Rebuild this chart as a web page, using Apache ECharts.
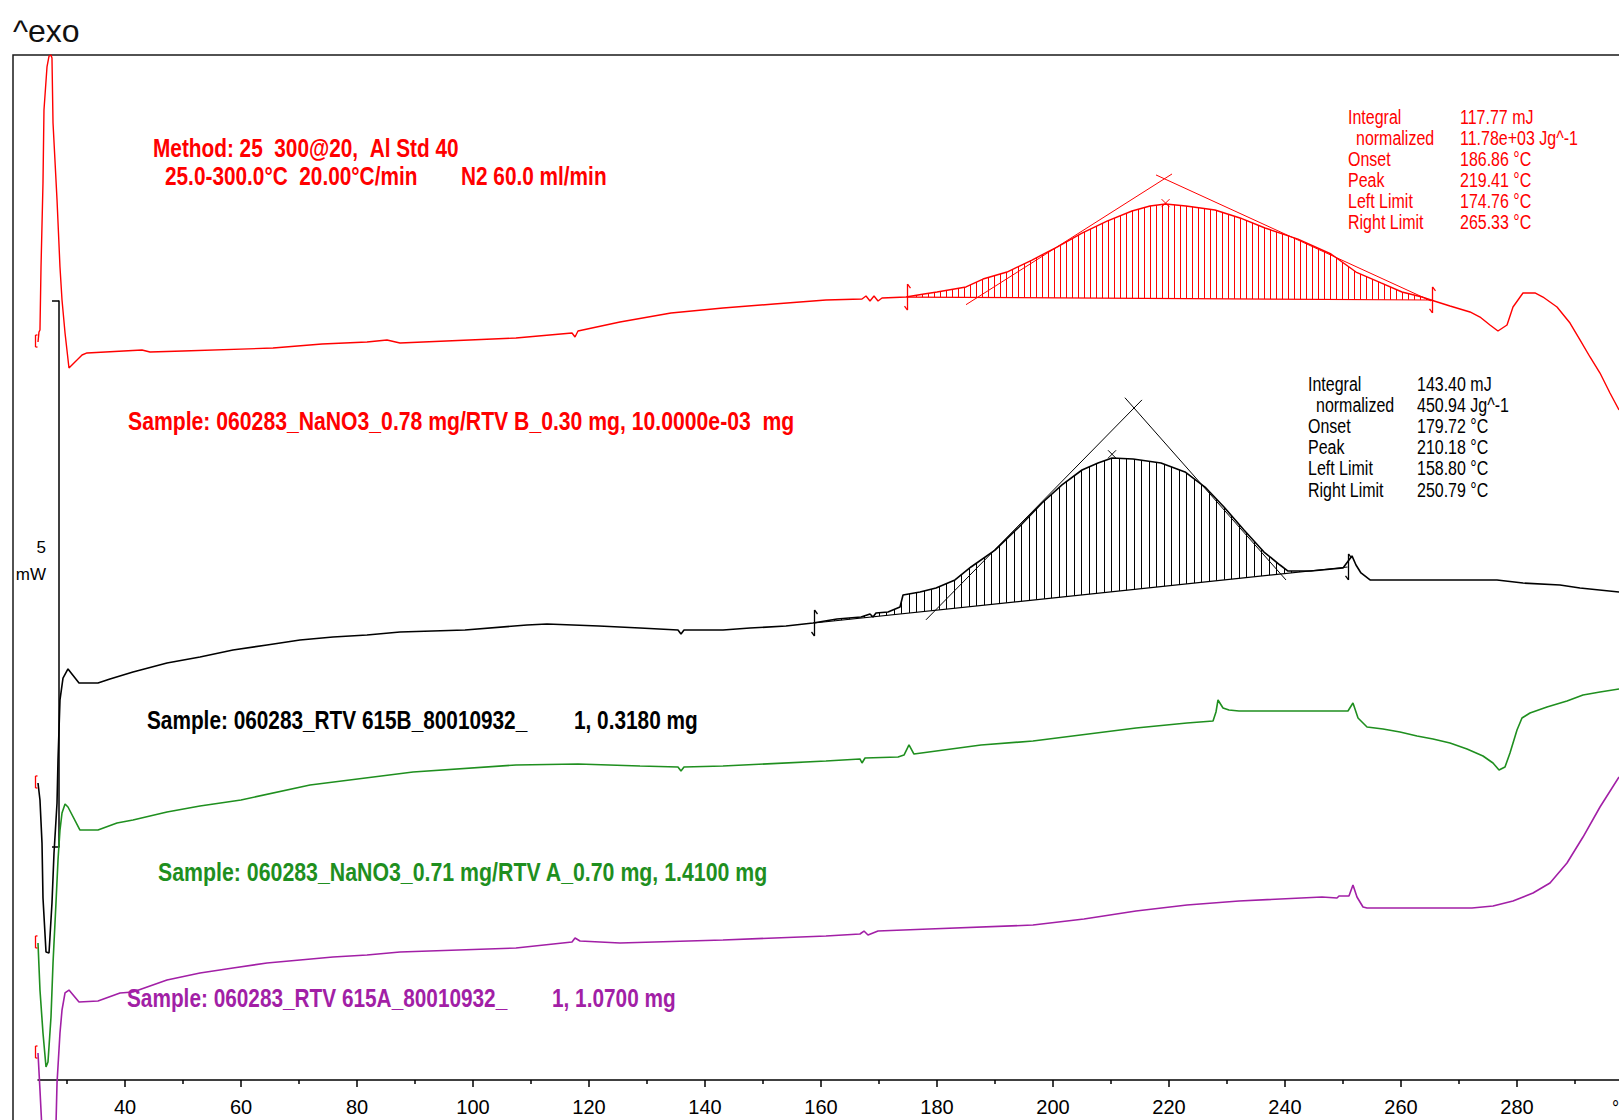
<!DOCTYPE html>
<html>
<head>
<meta charset="utf-8">
<title>DSC</title>
<script src="https://cdn.jsdelivr.net/npm/echarts@6/dist/echarts.min.js"></script>
<style>
  html, body { margin: 0; padding: 0; background: #fff; }
  #chart { width: 1619px; height: 1120px; }
</style>
</head>
<body>
<div id="chart"></div>
<script>
// DSC heat-flow traces, temperature (°C) against heat flow (mW), drawn offset from one another.

const redCurve = [[25.00,6.758],[25.17,6.850],[25.34,6.868],[25.52,7.445],[25.86,8.214],[26.03,8.883],[26.55,9.277],[26.90,9.377],[27.24,9.386],[27.41,9.359],[27.59,8.764],[28.28,8.059],[28.79,7.445],[29.14,7.143],[29.66,6.841],[30.34,6.520],[32.59,6.639],[33.45,6.658],[42.93,6.685],[44.31,6.667],[50.00,6.676],[65.52,6.703],[73.97,6.740],[81.72,6.758],[85.17,6.777],[87.41,6.749],[107.41,6.795],[117.07,6.841],[117.59,6.804],[118.10,6.859],[125.34,6.941],[134.14,7.024],[143.10,7.070],[151.90,7.106],[160.86,7.143],[167.07,7.152],[167.76,7.179],[168.45,7.134],[169.14,7.179],[169.83,7.134],[170.52,7.161],[174.66,7.170],[177.76,7.198],[180.00,7.216],[185.00,7.262],[187.93,7.335],[192.07,7.399],[196.38,7.509],[200.69,7.628],[205.00,7.756],[209.31,7.866],[213.62,7.958],[216.72,8.004],[219.41,8.022],[222.93,8.004],[227.93,7.967],[232.24,7.894],[236.55,7.802],[242.24,7.701],[247.93,7.564],[252.24,7.399],[256.55,7.299],[260.17,7.216],[263.62,7.170],[265.17,7.143],[268.45,7.088],[271.90,7.033],[273.62,6.987],[275.34,6.914],[276.72,6.859],[278.28,6.914],[279.31,7.079],[281.03,7.207],[283.10,7.207],[284.48,7.170],[286.90,7.079],[289.14,6.932],[290.86,6.777],[292.59,6.621],[294.31,6.474],[296.03,6.291],[297.59,6.136]];

const blackCurve = [[25.00,2.720],[25.34,2.564],[25.69,2.170],[25.86,1.667],[26.38,1.172],[26.90,1.163],[27.41,1.621],[27.76,2.079],[28.28,2.537],[28.45,2.930],[28.79,3.480],[29.31,3.681],[30.17,3.764],[32.07,3.636],[35.34,3.636],[37.41,3.672],[41.38,3.736],[47.24,3.819],[52.93,3.874],[58.62,3.938],[64.48,3.984],[70.17,4.029],[75.86,4.057],[81.72,4.075],[87.41,4.103],[98.62,4.121],[109.31,4.167],[112.76,4.176],[121.72,4.158],[128.79,4.139],[135.34,4.121],[135.86,4.084],[136.38,4.121],[143.10,4.121],[147.76,4.139],[153.97,4.158],[158.62,4.185],[162.76,4.222],[166.90,4.240],[168.45,4.267],[168.97,4.240],[169.48,4.277],[171.55,4.286],[173.62,4.332],[174.14,4.441],[177.07,4.469],[179.83,4.505],[183.10,4.579],[185.86,4.698],[190.00,4.853],[194.14,5.064],[198.10,5.284],[201.55,5.449],[205.00,5.586],[207.76,5.650],[210.18,5.696],[213.79,5.687],[218.62,5.650],[222.76,5.568],[226.21,5.430],[229.48,5.247],[232.93,5.037],[236.38,4.835],[239.14,4.716],[240.52,4.661],[244.48,4.661],[250.00,4.689],[251.03,4.762],[251.55,4.799],[252.24,4.716],[253.10,4.643],[254.66,4.579],[276.55,4.579],[281.03,4.551],[287.41,4.533],[290.86,4.505],[297.59,4.469]];

const greenCurve = [[25.00,1.255],[25.34,0.824],[25.86,0.430],[26.38,0.119],[26.72,0.165],[27.24,0.577],[27.59,1.071],[28.10,1.621],[28.45,2.015],[28.79,2.289],[29.14,2.445],[29.66,2.527],[30.17,2.500],[32.24,2.289],[35.34,2.289],[38.62,2.353],[41.38,2.381],[47.24,2.454],[52.93,2.509],[60.00,2.564],[71.90,2.701],[89.66,2.821],[107.41,2.885],[118.10,2.894],[128.79,2.875],[135.34,2.866],[135.86,2.830],[136.38,2.866],[143.10,2.875],[160.86,2.921],[166.72,2.940],[167.07,2.903],[167.59,2.949],[173.28,2.958],[174.31,2.976],[175.17,3.068],[176.03,2.985],[187.59,3.068],[196.55,3.104],[214.31,3.223],[223.10,3.269],[227.59,3.288],[228.10,3.370],[228.45,3.480],[229.31,3.407],[230.34,3.388],[232.07,3.379],[246.38,3.379],[250.86,3.379],[251.72,3.452],[252.59,3.315],[254.14,3.233],[256.90,3.214],[259.83,3.187],[262.76,3.150],[265.52,3.123],[268.45,3.086],[271.38,3.031],[274.14,2.967],[275.86,2.903],[276.90,2.839],[277.93,2.866],[278.79,2.995],[280.00,3.205],[280.86,3.315],[282.24,3.361],[285.17,3.416],[288.62,3.471],[291.38,3.526],[294.31,3.553],[297.59,3.581]];

const purpleCurve = [[25.00,0.247],[25.34,-0.092],[25.69,-0.458],[26.21,-0.916],[26.90,-1.053],[27.59,-0.916],[28.10,-0.412],[28.28,-0.027],[28.79,0.430],[29.14,0.641],[29.66,0.797],[30.34,0.824],[32.07,0.714],[35.34,0.723],[39.14,0.797],[41.38,0.806],[47.24,0.916],[52.93,0.980],[58.62,1.026],[64.48,1.071],[70.17,1.099],[75.86,1.126],[81.72,1.145],[87.41,1.172],[107.41,1.209],[117.07,1.264],[117.59,1.300],[118.45,1.273],[125.34,1.255],[143.10,1.282],[160.86,1.319],[166.72,1.337],[167.41,1.364],[168.10,1.328],[169.83,1.364],[178.62,1.383],[196.55,1.419],[205.34,1.474],[214.31,1.548],[223.10,1.603],[232.07,1.639],[246.38,1.676],[248.97,1.667],[249.31,1.685],[251.03,1.685],[251.72,1.786],[252.41,1.676],[253.45,1.584],[254.14,1.575],[272.24,1.575],[275.86,1.593],[279.31,1.639],[282.76,1.712],[285.69,1.804],[288.62,1.987],[291.38,2.225],[294.31,2.500],[297.59,2.775]];

// Temperature axis ticks
const xMajorTicks = [40, 60, 80, 100, 120, 140, 160, 180, 200, 220, 240, 260, 280];
const xMinorTicks = [30, 50, 70, 90, 110, 130, 150, 170, 190, 210, 230, 250, 270, 290];

// Peak integration: red trace
const redOnset = 186.86;
const redPeak = 219.41;
const redBaseline = [[174.76, 7.170], [265.33, 7.143]];          // left limit .. right limit
const redTangents = [[185.00, 7.100, 220.52, 8.297], [265.17, 7.134, 217.76, 8.288]];
const redPeakMark = [[redPeak, 8.03]];
const redResults = ['117.77 mJ', '11.78e+03 Jg^-1'];

// Peak integration: black trace
const blackOnset = 179.72;
const blackPeak = 210.18;
const blackBaseline = [[158.80, 4.185], [250.79, 4.698]];
const blackTangents = [[178.10, 4.214, 215.34, 6.228], [240.17, 4.579, 212.40, 6.248]];
const blackPeakMark = [[blackPeak, 5.73]];
const blackResults = ['143.40 mJ', '450.94 Jg^-1'];

const resultNames = ['Integral', 'normalized', 'Onset', 'Peak', 'Left Limit', 'Right Limit'];

const methodLines = ['Method: 25  300@20,  Al Std 40', '25.0-300.0°C  20.00°C/min', 'N2 60.0 ml/min'];
const sampleLines = [
  'Sample: 060283_NaNO3_0.78 mg/RTV B_0.30 mg, 10.0000e-03  mg',
  'Sample: 060283_RTV 615B_80010932_', '1, 0.3180 mg',
  'Sample: 060283_NaNO3_0.71 mg/RTV A_0.70 mg, 1.4100 mg',
  'Sample: 060283_RTV 615A_80010932_', '1, 1.0700 mg'
];

// ---------------------------------------------------------------
const RED = '#ff0000', BLACK = '#000000', GREEN = '#1f8f1f', PURPLE = '#a21fa6';
const SANS = '"Liberation Sans", Arial, sans-serif';
const keepSpaces = s => s.replace(/ {2,}/g, m => '\u00a0'.repeat(m.length));

function fmt(v) { return v.toFixed(2) + ' °C'; }

// text element; sx squeezes it horizontally into a condensed face
function textEl(x, y, text, fill, font, sx, align) {
  return {
    type: 'text', x: x, y: y, scaleX: sx || 1, scaleY: 1, silent: true, z: 100,
    style: {
      text: keepSpaces(text), fill: fill, font: font,
      align: align || 'left', verticalAlign: 'middle',
      textAlign: align || 'left', textVerticalAlign: 'middle'
    }
  };
}

// pixel y of a polyline at pixel x
function edgeAt(pts, x) {
  for (let i = 0; i < pts.length - 1; i++) {
    const a = pts[i], b = pts[i + 1];
    if (x >= a[0] && x <= b[0]) {
      if (b[0] === a[0]) return Math.min(a[1], b[1]);
      return a[1] + (b[1] - a[1]) * (x - a[0]) / (b[0] - a[0]);
    }
  }
  return null;
}

// vertical hatching between a trace and its integration baseline
function hatchSeries(curve, base, step, color) {
  return {
    type: 'custom', xAxisIndex: 0, yAxisIndex: 0, silent: true, z: 2,
    data: [base[0]],
    renderItem: function (params, api) {
      const b0 = api.coord(base[0]), b1 = api.coord(base[1]);
      const inner = curve.filter(p => p[0] > base[0][0] && p[0] < base[1][0]).map(p => api.coord(p));
      const top = [b0].concat(inner, [b1]);
      const children = [];
      for (let x = b0[0] + step * 0.6; x < b1[0] - 1; x += step) {
        const xs = Math.round(x) + 0.5;
        const yt = edgeAt(top, xs);
        const yb = b0[1] + (b1[1] - b0[1]) * (xs - b0[0]) / (b1[0] - b0[0]);
        if (yt !== null && yt < yb - 0.5) {
          children.push({ type: 'line', shape: { x1: xs, y1: yt, x2: xs, y2: yb }, style: { stroke: color, lineWidth: 1 } });
        }
      }
      children.push({ type: 'line', shape: { x1: b0[0], y1: b0[1], x2: b1[0], y2: b1[1] }, style: { stroke: color, lineWidth: 1.2 } });
      return { type: 'group', children: children };
    }
  };
}

// straight segments given as [x1, y1, x2, y2]
function segmentSeries(segs, color) {
  return {
    type: 'custom', xAxisIndex: 0, yAxisIndex: 0, silent: true, z: 4,
    data: segs,
    renderItem: function (params, api) {
      const a = api.coord([api.value(0), api.value(1)]);
      const b = api.coord([api.value(2), api.value(3)]);
      return { type: 'line', shape: { x1: a[0], y1: a[1], x2: b[0], y2: b[1] }, style: { stroke: color, lineWidth: 1 } };
    }
  };
}

// small cross at the peak temperature
function crossSeries(pts, color) {
  return {
    type: 'custom', xAxisIndex: 0, yAxisIndex: 0, silent: true, z: 5,
    data: pts,
    renderItem: function (params, api) {
      const p = api.coord([api.value(0), api.value(1)]);
      const r = 4;
      return { type: 'group', children: [
        { type: 'line', shape: { x1: p[0] - r, y1: p[1] - r, x2: p[0] + r, y2: p[1] + r }, style: { stroke: color, lineWidth: 1 } },
        { type: 'line', shape: { x1: p[0] - r, y1: p[1] + r, x2: p[0] + r, y2: p[1] - r }, style: { stroke: color, lineWidth: 1 } }
      ] };
    }
  };
}

// integration limit markers
function limitSeries(pts, color) {
  return {
    type: 'custom', xAxisIndex: 0, yAxisIndex: 0, silent: true, z: 5,
    data: pts,
    renderItem: function (params, api) {
      const p = api.coord([api.value(0), api.value(1)]);
      const x = Math.round(p[0]) + 0.5, y = p[1];
      const st = { stroke: color, lineWidth: 1.3 };
      return { type: 'group', children: [
        { type: 'line', shape: { x1: x, y1: y - 13, x2: x, y2: y + 13 }, style: st },
        { type: 'line', shape: { x1: x, y1: y - 13, x2: x + 3, y2: y - 9 }, style: st },
        { type: 'line', shape: { x1: x, y1: y + 13, x2: x - 3, y2: y + 9 }, style: st }
      ] };
    }
  };
}

// red start brackets at the beginning of each trace
const startPoints = [redCurve[0], blackCurve[0], greenCurve[0], purpleCurve[0]];
const bracketSeries = {
  type: 'custom', xAxisIndex: 0, yAxisIndex: 0, silent: true, z: 5, clip: false,
  data: startPoints,
  renderItem: function (params, api) {
    const p = api.coord([api.value(0), api.value(1)]);
    const x = Math.round(p[0]) - 2.5, y = p[1];
    const st = { stroke: RED, lineWidth: 1.3 };
    return { type: 'group', children: [
      { type: 'line', shape: { x1: x, y1: y - 7, x2: x, y2: y + 5 }, style: st },
      { type: 'line', shape: { x1: x, y1: y - 7, x2: x + 2, y2: y - 7 }, style: st },
      { type: 'line', shape: { x1: x, y1: y + 5, x2: x + 2, y2: y + 5 }, style: st }
    ] };
  }
};

function trace(data, color, width) {
  return {
    type: 'line', xAxisIndex: 0, yAxisIndex: 0, data: data,
    symbol: 'none', showSymbol: false, clip: false, silent: true, z: 3,
    lineStyle: { color: color, width: width }
  };
}

// ---------------------------------------------------------------
const graphics = [];
graphics.push(textEl(13, 31, '^exo', '#111', '32px ' + SANS));
const boldFont = 'bold 26px ' + SANS;
const SQ = 0.8;
graphics.push(textEl(153, 148, methodLines[0], RED, boldFont, SQ));
graphics.push(textEl(165, 176, methodLines[1], RED, boldFont, SQ));
graphics.push(textEl(461, 176, methodLines[2], RED, boldFont, SQ));
graphics.push(textEl(128, 421, sampleLines[0], RED, boldFont, 0.815));
graphics.push(textEl(147, 720, sampleLines[1], BLACK, boldFont, SQ));
graphics.push(textEl(574, 720, sampleLines[2], BLACK, boldFont, SQ));
graphics.push(textEl(158, 872, sampleLines[3], GREEN, boldFont, 0.82));
graphics.push(textEl(127, 998, sampleLines[4], PURPLE, boldFont, SQ));
graphics.push(textEl(552, 998, sampleLines[5], PURPLE, boldFont, SQ));

function resultTable(x0, xv, y0, dy, values, onset, peak, base, color) {
  const vals = values.concat([fmt(onset), fmt(peak), fmt(base[0][0]), fmt(base[1][0])]);
  const font = '19.5px ' + SANS;
  resultNames.forEach((n, i) => {
    graphics.push(textEl(i === 1 ? x0 + 8 : x0, y0 + i * dy, n, color, font, 0.82));
    graphics.push(textEl(xv, y0 + i * dy, vals[i], color, font, 0.82));
  });
}
resultTable(1348, 1460, 117, 21, redResults, redOnset, redPeak, redBaseline, RED);
resultTable(1308, 1417, 384, 21.2, blackResults, blackOnset, blackPeak, blackBaseline, BLACK);
graphics.push(textEl(1612, 1107, '°C', BLACK, '21px ' + SANS, 0.85));

const option = {
  backgroundColor: '#ffffff',
  animation: false,
  grid: [
    { left: 38, top: 55, width: 1595, height: 1025, containLabel: false, outerBoundsMode: 'none' },
    { left: 13, top: 55, width: 1700, height: 1200, show: true, borderColor: '#1a1a1a', borderWidth: 1.5,
      backgroundColor: 'transparent', containLabel: false, outerBoundsMode: 'none', z: 0 },
    { left: 59, top: 301, width: 10, height: 546, containLabel: false, outerBoundsMode: 'none' }
  ],
  xAxis: [
    {
      gridIndex: 0, type: 'value', min: 25, max: 300, position: 'bottom',
      axisLine: { show: true, onZero: false, lineStyle: { color: '#000', width: 1.5 } },
      axisTick: { show: true, customValues: xMajorTicks, length: 7, lineStyle: { color: '#000', width: 1.5 } },
      axisLabel: { show: true, customValues: xMajorTicks, margin: 17, color: '#000', fontSize: 20, fontFamily: SANS },
      splitLine: { show: false }, minorTick: { show: false }
    },
    {
      // minor ticks: a second temperature axis laid onto the same line
      gridIndex: 0, type: 'value', min: 25, max: 300, position: 'top', offset: -1025,
      axisLine: { show: false, onZero: false },
      axisTick: { show: true, inside: true, customValues: xMinorTicks, length: 4, lineStyle: { color: '#000', width: 1.5 } },
      axisLabel: { show: false }, splitLine: { show: false }
    },
    { gridIndex: 1, type: 'value', show: false },
    { gridIndex: 2, type: 'value', show: false }
  ],
  yAxis: [
    { gridIndex: 0, type: 'value', min: 0, max: 9.3864, show: false },
    { gridIndex: 1, type: 'value', show: false },
    {
      // 5 mW scale bar
      gridIndex: 2, type: 'value', min: 0, max: 5, interval: 5, position: 'left',
      axisLine: { show: true, onZero: false, lineStyle: { color: '#000', width: 1.5 } },
      axisTick: { show: true, length: 7, lineStyle: { color: '#000', width: 1.5 } },
      axisLabel: { show: false }, splitLine: { show: false },
      name: '5\nmW\n\u00a0', nameLocation: 'middle', nameRotate: 0, nameGap: 13,
      nameTextStyle: { color: '#000', fontSize: 17, lineHeight: 27, fontFamily: SANS, align: 'right' }
    }
  ],
  series: [
    hatchSeries(redCurve, redBaseline, 6, RED),
    hatchSeries(blackCurve, blackBaseline, 7.5, BLACK),
    segmentSeries(redTangents, RED),
    segmentSeries(blackTangents, BLACK),
    trace(redCurve, RED, 1.4),
    trace(blackCurve, BLACK, 1.6),
    trace(greenCurve, GREEN, 1.6),
    trace(purpleCurve, PURPLE, 1.6),
    crossSeries(redPeakMark, RED),
    crossSeries(blackPeakMark, BLACK),
    limitSeries(redBaseline, RED),
    limitSeries(blackBaseline, BLACK),
    bracketSeries
  ],
  graphic: { elements: graphics }
};

const chart = echarts.init(document.getElementById('chart'), null, { renderer: 'svg', width: 1619, height: 1120 });
chart.setOption(option);
</script>
</body>
</html>
